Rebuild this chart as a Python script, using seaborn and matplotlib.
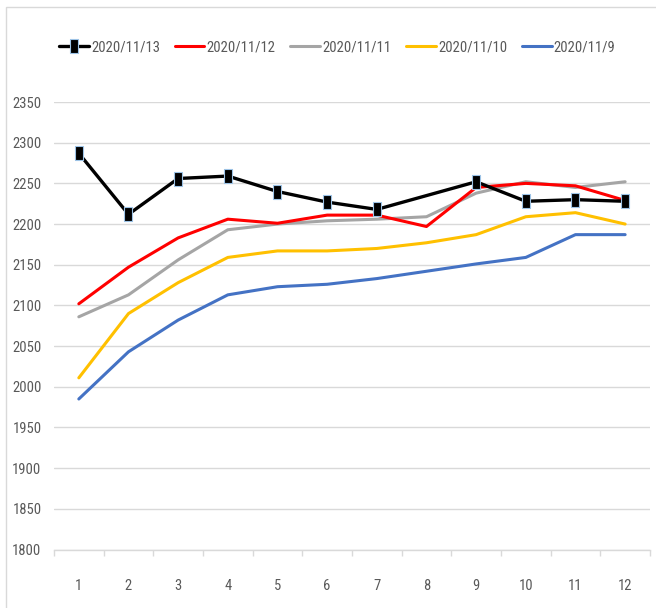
import matplotlib
matplotlib.use("Agg")
import matplotlib.pyplot as plt
from matplotlib import font_manager
from matplotlib.patches import Rectangle
import seaborn as sns
import pandas as pd

x_labels = [1, 2, 3, 4, 5, 6, 7, 8, 9, 10, 11, 12]
s_1113 = [2287, 2212, 2256, 2259, 2240, 2227, 2218, 2235, 2252, 2228, 2230, 2228]
s_1112 = [2102, 2147, 2183, 2206, 2201, 2211, 2211, 2197, 2245, 2250, 2247, 2229]
s_1111 = [2086, 2113, 2156, 2193, 2200, 2204, 2206, 2209, 2238, 2252, 2245, 2252]
s_1110 = [2011, 2090, 2128, 2159, 2167, 2167, 2170, 2177, 2187, 2209, 2214, 2200]
s_1109 = [1985, 2043, 2082, 2113, 2123, 2126, 2133, 2142, 2151, 2159, 2187, 2187]
series_names = ["2020/11/13", "2020/11/12", "2020/11/11", "2020/11/10", "2020/11/9"]
colors = ["#000000", "#FF0000", "#A5A5A5", "#FFC000", "#4472C4"]
y_ticks = [1800, 1850, 1900, 1950, 2000, 2050, 2100, 2150, 2200, 2250, 2300, 2350]

sns.set_theme(style="white")

available = {f.name for f in font_manager.fontManager.ttflist}
font_choice = [("Liberation Sans Narrow", 11.5), ("Roboto Condensed", 10.5),
               ("DejaVu Sans Condensed", 9.5), ("Liberation Sans", 10)]
fam, fsize = "DejaVu Sans", 9.5
for name, size in font_choice:
    if name in available:
        fam, fsize = name, size
        break
plt.rcParams['font.family'] = [fam, 'DejaVu Sans']

fig = plt.figure(figsize=(6.56, 6.08), dpi=100)
ax = fig.add_axes([0.0823, 0.0962, 0.9085, 0.736])

# chart border (cropped at right/bottom)
fig.patches.append(Rectangle((6 / 656, -0.1), 1.2, 1 - 7 / 608 + 0.1, transform=fig.transFigure,
                             fill=False, edgecolor="#D9D9D9", linewidth=1.0, zorder=0))

all_series = [s_1113, s_1112, s_1111, s_1110, s_1109]
rect = [(-0.32, -0.5), (0.32, -0.5), (0.32, 0.5), (-0.32, 0.5), (-0.32, -0.5)]
for i, (name, vals, col) in enumerate(zip(series_names, all_series, colors)):
    df = pd.DataFrame({"x": x_labels, "y": vals})
    if i == 0:
        # marker absent at point 8 in the original
        sns.lineplot(data=df, x="x", y="y", ax=ax, color=col, linewidth=2.4, label=name,
                     marker=rect, markersize=10, markeredgecolor="#9DC3E6",
                     markeredgewidth=0.8, markevery=[0, 1, 2, 3, 4, 5, 6, 8, 9, 10, 11],
                     zorder=10)
    else:
        sns.lineplot(data=df, x="x", y="y", ax=ax, color=col, linewidth=2.2, label=name,
                     zorder=5 - i)

ax.set_xlim(0.5, 12.5)
ax.set_ylim(1800, 2350)
ax.set_yticks(y_ticks)
ax.set_xticks(x_labels)
ax.set_xticklabels([str(v) for v in x_labels])
ax.set_xticks([v + 0.5 for v in range(0, 13)], minor=True)
ax.set_xlabel("")
ax.set_ylabel("")
ax.grid(axis="y", color="#D9D9D9", linewidth=1.0)
ax.grid(axis="x", visible=False)
for side in ["top", "right", "left"]:
    ax.spines[side].set_visible(False)
ax.spines["bottom"].set_color("#D9D9D9")
ax.spines["bottom"].set_linewidth(1.0)
ax.tick_params(axis="x", which="major", length=0, pad=21, labelsize=fsize, labelcolor="#595959")
ax.tick_params(axis="x", which="minor", length=4, width=1.0, color="#D9D9D9", bottom=True)
ax.tick_params(axis="y", length=0, pad=9, labelsize=fsize, labelcolor="#595959")

ax.get_legend().remove()
handles, labels = ax.get_legend_handles_labels()
leg = fig.legend(handles, labels, loc="center", bbox_to_anchor=(0.514, 1 - 47 / 608), ncol=5,
                 frameon=False, fontsize=fsize, handlelength=2.05, handletextpad=0.15,
                 columnspacing=1.0, labelcolor="#595959", numpoints=1)
leg.legend_handles[0].set_markevery([1])

fig.savefig("out.png", dpi=100)
